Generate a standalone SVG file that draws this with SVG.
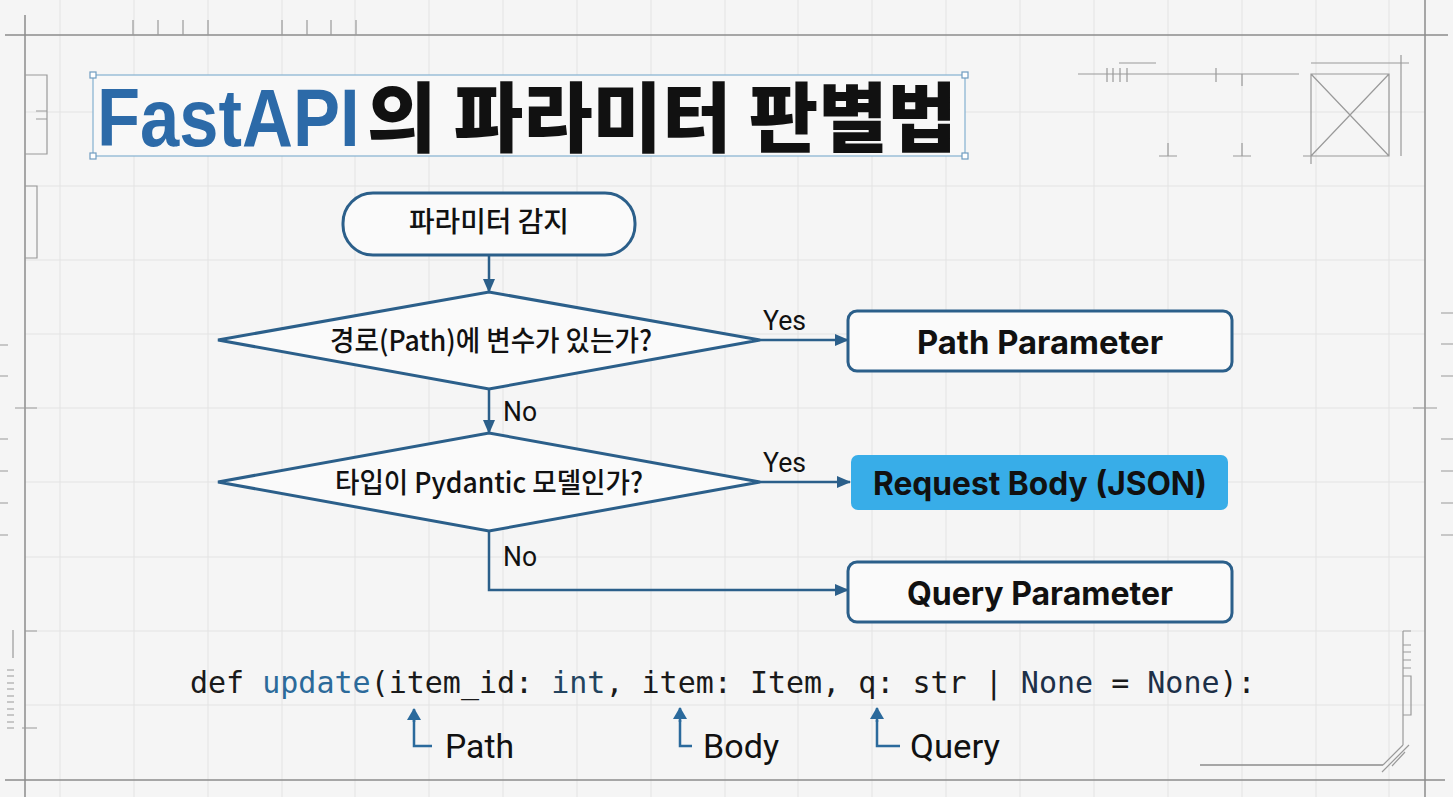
<svg xmlns="http://www.w3.org/2000/svg" width="1453" height="797" viewBox="0 0 1453 797">
<style>
.grid{stroke:#e3e3e3;stroke-width:1;fill:none}
.frame{stroke:#8c8c8c;stroke-width:1.5;fill:none}
.deco{stroke:#9a9a9a;stroke-width:1.2;fill:none}
.node{stroke:#2b5f8a;stroke-width:3;fill:#fafafa}
.conn{stroke:#2b5f8a;stroke-width:2.5;fill:none}
.ko{font-family:"Noto Sans CJK KR","Noto Sans",sans-serif;fill:#111}
.lbl{font-family:"Roboto","Liberation Sans",sans-serif;fill:#111}
.box{font-family:"Inter","Noto Sans",sans-serif;font-weight:700;fill:#111}
.code{font-family:"DejaVu Sans Mono","Liberation Mono",monospace;font-size:30px;fill:#1a1a1a}
.handle{fill:#fff;stroke:#6f9cc0;stroke-width:1.2}
</style>
<defs>
<marker id="ah" markerWidth="14" markerHeight="12" refX="13" refY="6" orient="auto" markerUnits="userSpaceOnUse"><path d="M0,0 L14,6 L0,12 z" fill="#2b5f8a"/></marker>
<marker id="ahs" markerWidth="12" markerHeight="14" refX="11" refY="7" orient="auto" markerUnits="userSpaceOnUse"><path d="M0,0 L12,7 L0,14 z" fill="#2b6a9c"/></marker>
</defs>
<rect width="1453" height="797" fill="#f5f5f5"/>
<g id="grid" class="grid">
<path d="M60,0V797 M134,0V797 M208,0V797 M282,0V797 M355,0V797 M429,0V797 M503,0V797 M577,0V797 M651,0V797 M725,0V797 M798,0V797 M872,0V797 M946,0V797 M1020,0V797 M1094,0V797 M1168,0V797 M1242,0V797 M1316,0V797 M1389,0V797"/>
<path d="M25,112H1425 M25,186H1425 M25,260H1425 M25,334H1425 M25,408H1425 M25,482H1425 M25,557H1425 M25,631H1425 M25,705H1425"/>
</g>
<g id="frame" class="frame">
<path d="M5,35H1448 M25,15V797 M1425,0V797 M5,780H1445 M1200,765H1383"/>
</g>
<g id="decorations" class="deco">
<path d="M133,20V35 M158,20V35 M183,20V35 M208,20V35 M282,20V35 M307,20V35 M331,20V35 M356,20V35"/>
<path d="M25,75H47V154H25 M36,111H47 M36,119H47 M25,186H37V258H25"/>
<path d="M0,345H8 M0,376H8 M0,439H8 M0,471H8 M0,503H8 M0,535H8 M15,408H37"/>
<path d="M25,631H37 M13,630V658 M7,670H14 M7,676H14 M7,683H14 M7,689H14 M7,696H14 M7,702H14 M7,709H14 M7,715H14 M7,722H14 M7,728H14 M22,728H37"/>
<path d="M1441,313H1453 M1441,344H1453 M1441,376H1453 M1441,439H1453 M1441,471H1453 M1441,503H1453 M1441,535H1453 M1413,408H1437"/>
<path d="M1078,74H1299 M1107,68V82 M1113,68V82 M1120,68V82 M1127,68V82 M1119,63H1156 M1216,68V82 M1242,74V86"/>
<path d="M1311,74H1389V156H1311Z M1311,74L1389,156 M1389,74L1311,156 M1311,63H1409 M1401,55V156 M1303,156H1311V164"/>
<path d="M1159,156H1177 M1168,143V156 M1233,156H1251 M1242,143V156"/>
<path d="M1403,631V745 M1403,631H1411 M1403,645H1411 M1403,652H1411 M1403,660H1411 M1403,668H1411 M1403,676H1411V715H1403 M1409,745L1382,772 M1405,752L1392,766 M1403,745L1383,765"/>
</g>
<g id="title">
<rect x="93" y="75" width="872" height="81" fill="#f8f8f8" stroke="#8db6d3" stroke-width="1.3"/>
<rect class="handle" x="90" y="72" width="6" height="6"/>
<rect class="handle" x="962" y="72" width="6" height="6"/>
<rect class="handle" x="90" y="153" width="6" height="6"/>
<rect class="handle" x="962" y="153" width="6" height="6"/>
<text transform="translate(97,146) scale(0.86,1)" x="0" y="0" font-family="'Liberation Sans',Arial,sans-serif" font-weight="700" font-size="82" fill="#2c6aa8">FastAPI</text>
<text x="367" y="146" class="ko" font-weight="900" font-size="76" textLength="590" lengthAdjust="spacingAndGlyphs">의 파라미터 판별법</text>
</g>
<g id="connectors">
<line class="conn" x1="489" y1="255" x2="489" y2="292" marker-end="url(#ah)"/>
<line class="conn" x1="489" y1="389" x2="489" y2="433" marker-end="url(#ah)"/>
<line class="conn" x1="760" y1="340" x2="848" y2="340" marker-end="url(#ah)"/>
<line class="conn" x1="760" y1="482" x2="850" y2="482" marker-end="url(#ah)"/>
<polyline class="conn" points="489,531 489,590 848,590" marker-end="url(#ah)"/>
<text class="lbl" x="763" y="330" font-size="27" textLength="43" lengthAdjust="spacingAndGlyphs">Yes</text>
<text class="lbl" x="503" y="421" font-size="27" textLength="34" lengthAdjust="spacingAndGlyphs">No</text>
<text class="lbl" x="763" y="472" font-size="27" textLength="43" lengthAdjust="spacingAndGlyphs">Yes</text>
<text class="lbl" x="503" y="566" font-size="27" textLength="34" lengthAdjust="spacingAndGlyphs">No</text>
</g>
<g id="start">
<rect class="node" x="343" y="193" width="292" height="62" rx="30"/>
<text class="ko" x="489" y="232" font-size="28" font-weight="500" text-anchor="middle" textLength="160" lengthAdjust="spacingAndGlyphs">파라미터 감지</text>
</g>
<g id="decision-path">
<polygon class="node" points="218,340 489,292 760,340 489,389"/>
<text class="ko" x="491" y="351" font-size="28" font-weight="500" text-anchor="middle" textLength="322" lengthAdjust="spacingAndGlyphs">경로(Path)에 변수가 있는가?</text>
</g>
<g id="decision-pydantic">
<polygon class="node" points="218,482 489,433 760,482 489,531"/>
<text class="ko" x="489" y="493" font-size="28" font-weight="500" text-anchor="middle" textLength="308" lengthAdjust="spacingAndGlyphs">타입이 Pydantic 모델인가?</text>
</g>
<g id="path-parameter">
<rect class="node" x="848" y="311" width="384" height="60" rx="9"/>
<text class="box" x="1040" y="354" font-size="32" text-anchor="middle" textLength="246" lengthAdjust="spacingAndGlyphs">Path Parameter</text>
</g>
<g id="request-body">
<rect x="851" y="455" width="377" height="55" rx="7" fill="#38ade8"/>
<text class="box" x="1040" y="495" font-size="32" text-anchor="middle" textLength="334" lengthAdjust="spacingAndGlyphs">Request Body (JSON)</text>
</g>
<g id="query-parameter">
<rect class="node" x="848" y="562" width="384" height="60" rx="9"/>
<text class="box" x="1040" y="605" font-size="32" text-anchor="middle" textLength="266" lengthAdjust="spacingAndGlyphs">Query Parameter</text>
</g>
<g id="code">
<text class="code" x="190" y="693">def <tspan fill="#2c6a9a">update</tspan>(item_id: <tspan fill="#22435e">int</tspan>, item: Item, q: str | <tspan fill="#1d3048">None</tspan> = <tspan fill="#1d3048">None</tspan>):</text>
</g>
<g id="annotations">
<polyline fill="none" stroke="#2b6a9c" stroke-width="2.5" points="414,720 414,746 432,746"/>
<line x1="414" y1="722" x2="414" y2="709" stroke="#2b6a9c" stroke-width="2.5" marker-end="url(#ahs)"/>
<polyline fill="none" stroke="#2b6a9c" stroke-width="2.5" points="680,720 680,746 692,746"/>
<line x1="680" y1="722" x2="680" y2="708" stroke="#2b6a9c" stroke-width="2.5" marker-end="url(#ahs)"/>
<polyline fill="none" stroke="#2b6a9c" stroke-width="2.5" points="877,720 877,746 900,746"/>
<line x1="877" y1="722" x2="877" y2="708" stroke="#2b6a9c" stroke-width="2.5" marker-end="url(#ahs)"/>
<text class="lbl" x="445" y="758" font-size="33" textLength="69" lengthAdjust="spacingAndGlyphs">Path</text>
<text class="lbl" x="703" y="758" font-size="33" textLength="76" lengthAdjust="spacingAndGlyphs">Body</text>
<text class="lbl" x="910" y="758" font-size="33" textLength="90" lengthAdjust="spacingAndGlyphs">Query</text>
</g>
</svg>
